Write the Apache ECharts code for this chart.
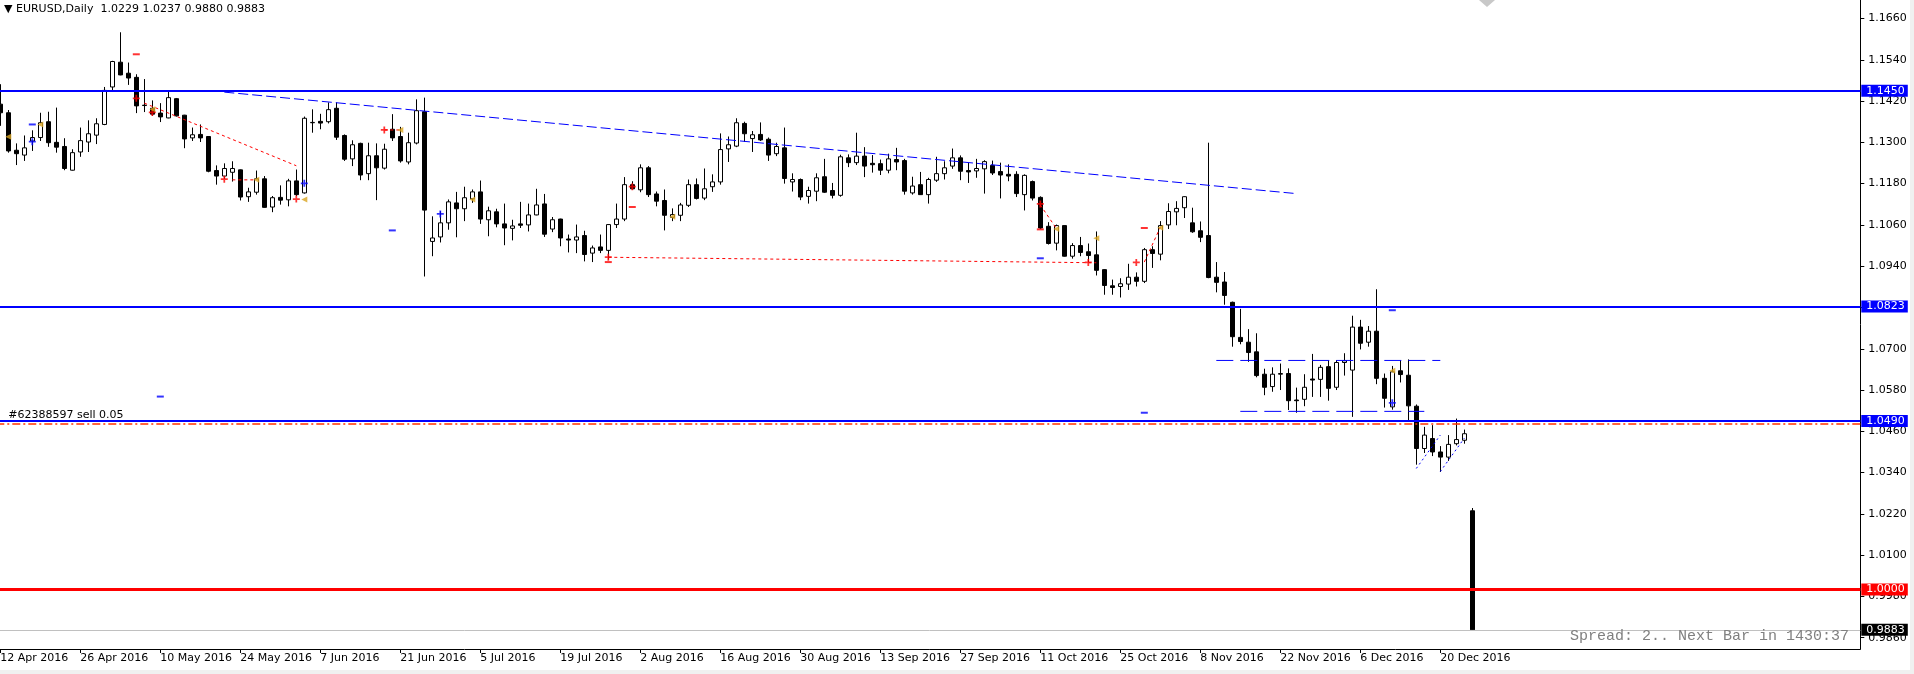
<!DOCTYPE html>
<html>
<head>
<meta charset="utf-8">
<script src="https://cdn.jsdelivr.net/npm/echarts@6/dist/echarts.min.js"></script>
<style>
  html, body { margin: 0; padding: 0; background: #f0f0f0; }
  #chart { position: absolute; left: 0; top: 0; width: 1910px; height: 670px; background: #fff; }
</style>
</head>
<body>
<div id="chart"></div>
<script>
// date labels, one every 10 daily bars
const dateLabels = ['12 Apr 2016', '26 Apr 2016', '10 May 2016', '24 May 2016', '7 Jun 2016', '21 Jun 2016',
  '5 Jul 2016', '19 Jul 2016', '2 Aug 2016', '16 Aug 2016', '30 Aug 2016', '13 Sep 2016', '27 Sep 2016',
  '11 Oct 2016', '25 Oct 2016', '8 Nov 2016', '22 Nov 2016', '6 Dec 2016', '20 Dec 2016'];

const opens = [1.1411, 1.1386, 1.1277, 1.1263, 1.1304, 1.1314, 1.1360, 1.1300, 1.1288, 1.1219,
  1.1272, 1.1301, 1.1321, 1.1352, 1.1461, 1.1533, 1.1501, 1.1489, 1.1408, 1.1399,
  1.1385, 1.1371, 1.1427, 1.1379, 1.1313, 1.1323, 1.1317, 1.1218, 1.1202, 1.1213,
  1.1220, 1.1142, 1.1155, 1.1194, 1.1112, 1.1140, 1.1133, 1.1188, 1.1153, 1.1357,
  1.1361, 1.1360, 1.1399, 1.1320, 1.1252, 1.1297, 1.1209, 1.1261, 1.1225, 1.1338,
  1.1317, 1.1243, 1.1298, 1.1389, 1.1012, 1.1025, 1.1066, 1.1124, 1.1107, 1.1136,
  1.1156, 1.1075, 1.1098, 1.1063, 1.1050, 1.1063, 1.1060, 1.1089, 1.1121, 1.1048,
  1.1077, 1.1019, 1.1016, 1.1029, 1.0978, 1.0996, 1.0986, 1.1061, 1.1077, 1.1177,
  1.1162, 1.1226, 1.1150, 1.1131, 1.1082, 1.1088, 1.1117, 1.1177, 1.1138, 1.1171,
  1.1185, 1.1281, 1.1289, 1.1355, 1.1311, 1.1323, 1.1309, 1.1267, 1.1284, 1.1185,
  1.1192, 1.1143, 1.1158, 1.1200, 1.1160, 1.1146, 1.1255, 1.1241, 1.1260, 1.1239,
  1.1238, 1.1219, 1.1250, 1.1247, 1.1153, 1.1177, 1.1148, 1.1190, 1.1209, 1.1231,
  1.1255, 1.1218, 1.1217, 1.1223, 1.1233, 1.1215, 1.1207, 1.1207, 1.1148, 1.1186,
  1.1140, 1.1056, 1.1007, 1.1058, 1.0969, 1.1000, 1.0982, 1.0973, 1.0930, 1.0883,
  1.0881, 1.0888, 1.0908, 1.0896, 1.0988, 1.0975, 1.1060, 1.1098, 1.1110, 1.1066,
  1.1043, 1.1029, 1.0908, 1.0894, 1.0835, 1.0733, 1.0719, 1.0691, 1.0626, 1.0590,
  1.0626, 1.0628, 1.0551, 1.0553, 1.0612, 1.0611, 1.0648, 1.0588, 1.0660, 1.0638,
  1.0763, 1.0719, 1.0751, 1.0614, 1.0531, 1.0636, 1.0623, 1.0533, 1.0410, 1.0439,
  1.0400, 1.0385, 1.0424, 1.0434, 1.0229];

const closes = [1.1386, 1.1275, 1.1267, 1.1284, 1.1314, 1.1357, 1.1299, 1.1286, 1.1224, 1.1270,
  1.1305, 1.1325, 1.1354, 1.1451, 1.1535, 1.1496, 1.1487, 1.1406, 1.1407, 1.1382,
  1.1374, 1.1430, 1.1377, 1.1310, 1.1322, 1.1313, 1.1216, 1.1202, 1.1224, 1.1224,
  1.1141, 1.1156, 1.1194, 1.1111, 1.1139, 1.1132, 1.1188, 1.1148, 1.1370, 1.1358,
  1.1356, 1.1395, 1.1315, 1.1251, 1.1293, 1.1205, 1.1261, 1.1226, 1.1280, 1.1313,
  1.1246, 1.1299, 1.1392, 1.1103, 1.1022, 1.1066, 1.1127, 1.1107, 1.1139, 1.1156,
  1.1077, 1.1101, 1.1063, 1.1051, 1.1057, 1.1059, 1.1089, 1.1118, 1.1033, 1.1075,
  1.1022, 1.1016, 1.1025, 1.0974, 1.0993, 1.0986, 1.1061, 1.1077, 1.1177, 1.1165,
  1.1226, 1.1148, 1.1129, 1.1088, 1.1090, 1.1118, 1.1177, 1.1137, 1.1165, 1.1185,
  1.1279, 1.1293, 1.1357, 1.1325, 1.1322, 1.1307, 1.1263, 1.1288, 1.1195, 1.1192,
  1.1141, 1.1160, 1.1197, 1.1155, 1.1146, 1.1258, 1.1241, 1.1260, 1.1231, 1.1235,
  1.1219, 1.1252, 1.1243, 1.1158, 1.1173, 1.1148, 1.1192, 1.1209, 1.1226, 1.1255,
  1.1216, 1.1214, 1.1224, 1.1244, 1.1211, 1.1205, 1.1202, 1.1151, 1.1204, 1.1138,
  1.1051, 1.1006, 1.1058, 1.0969, 1.1000, 1.0980, 1.0971, 1.0928, 1.0884, 1.0878,
  1.0889, 1.0908, 1.0896, 1.0988, 1.0977, 1.1058, 1.1099, 1.1108, 1.1142, 1.1040,
  1.1024, 1.0907, 1.0893, 1.0855, 1.0735, 1.0721, 1.0689, 1.0622, 1.0588, 1.0626,
  1.0628, 1.0549, 1.0549, 1.0588, 1.0609, 1.0646, 1.0585, 1.0660, 1.0665, 1.0763,
  1.0716, 1.0751, 1.0614, 1.0556, 1.0633, 1.0625, 1.0534, 1.0410, 1.0449, 1.0400,
  1.0385, 1.0422, 1.0436, 1.0453, 0.9883];

const highs = [1.1469, 1.1394, 1.1297, 1.1320, 1.1335, 1.1386, 1.1389, 1.1401, 1.1312, 1.1280,
  1.1343, 1.1364, 1.1370, 1.1461, 1.1537, 1.1620, 1.1532, 1.1498, 1.1484, 1.1422,
  1.1414, 1.1452, 1.1429, 1.1380, 1.1343, 1.1352, 1.1318, 1.1233, 1.1239, 1.1245,
  1.1221, 1.1168, 1.1218, 1.1202, 1.1144, 1.1175, 1.1194, 1.1221, 1.1375, 1.1396,
  1.1383, 1.1416, 1.1416, 1.1323, 1.1306, 1.1299, 1.1299, 1.1297, 1.1296, 1.1382,
  1.1345, 1.1328, 1.1425, 1.1430, 1.1085, 1.1100, 1.1134, 1.1156, 1.1171, 1.1163,
  1.1189, 1.1113, 1.1107, 1.1122, 1.1075, 1.1127, 1.1122, 1.1165, 1.1150, 1.1083,
  1.1078, 1.1032, 1.1061, 1.1043, 1.1000, 1.1032, 1.1062, 1.1122, 1.1199, 1.1187,
  1.1236, 1.1231, 1.1157, 1.1163, 1.1108, 1.1124, 1.1192, 1.1195, 1.1224, 1.1207,
  1.1326, 1.1317, 1.1370, 1.1360, 1.1333, 1.1358, 1.1314, 1.1299, 1.1343, 1.1210,
  1.1195, 1.1171, 1.1210, 1.1252, 1.1182, 1.1264, 1.1265, 1.1328, 1.1286, 1.1263,
  1.1250, 1.1267, 1.1284, 1.1252, 1.1200, 1.1214, 1.1197, 1.1258, 1.1245, 1.1282,
  1.1262, 1.1241, 1.1252, 1.1248, 1.1247, 1.1241, 1.1236, 1.1216, 1.1207, 1.1189,
  1.1143, 1.1068, 1.1061, 1.1058, 1.1007, 1.1025, 1.1006, 1.1041, 1.0931, 1.0901,
  1.0905, 1.0947, 1.0922, 1.0993, 1.0998, 1.1071, 1.1123, 1.1129, 1.1143, 1.1110,
  1.1070, 1.1299, 1.0952, 1.0923, 1.0837, 1.0816, 1.0757, 1.0745, 1.0642, 1.0646,
  1.0657, 1.0643, 1.0587, 1.0626, 1.0685, 1.0653, 1.0667, 1.0667, 1.0687, 1.0796,
  1.0784, 1.0766, 1.0873, 1.0628, 1.0650, 1.0667, 1.0669, 1.0538, 1.0473, 1.0478,
  1.0417, 1.0449, 1.0497, 1.0465, 1.0237];

const lows = [1.1348, 1.1270, 1.1234, 1.1246, 1.1275, 1.1304, 1.1287, 1.1270, 1.1219, 1.1218,
  1.1258, 1.1272, 1.1295, 1.1350, 1.1450, 1.1495, 1.1467, 1.1385, 1.1388, 1.1377,
  1.1359, 1.1370, 1.1375, 1.1283, 1.1304, 1.1301, 1.1213, 1.1177, 1.1194, 1.1186,
  1.1131, 1.1127, 1.1148, 1.1110, 1.1097, 1.1119, 1.1114, 1.1144, 1.1151, 1.1328,
  1.1338, 1.1355, 1.1307, 1.1246, 1.1231, 1.1190, 1.1190, 1.1132, 1.1221, 1.1304,
  1.1241, 1.1236, 1.1294, 1.0910, 1.0969, 1.1009, 1.1046, 1.1024, 1.1071, 1.1124,
  1.1063, 1.1027, 1.1053, 1.1001, 1.1015, 1.1051, 1.1041, 1.1088, 1.1025, 1.1039,
  1.0998, 1.0980, 1.0978, 1.0954, 1.0952, 1.0978, 1.0959, 1.1051, 1.1071, 1.1163,
  1.1155, 1.1141, 1.1114, 1.1044, 1.1071, 1.1071, 1.1112, 1.1134, 1.1132, 1.1156,
  1.1177, 1.1243, 1.1286, 1.1301, 1.1272, 1.1304, 1.1246, 1.1260, 1.1180, 1.1157,
  1.1132, 1.1122, 1.1129, 1.1153, 1.1137, 1.1142, 1.1228, 1.1234, 1.1199, 1.1212,
  1.1205, 1.1210, 1.1219, 1.1148, 1.1148, 1.1147, 1.1122, 1.1185, 1.1192, 1.1223,
  1.1190, 1.1182, 1.1197, 1.1151, 1.1205, 1.1137, 1.1187, 1.1141, 1.1102, 1.1131,
  1.1048, 1.1003, 1.0986, 1.0968, 1.0962, 1.0969, 1.0952, 1.0913, 1.0857, 1.0857,
  1.0849, 1.0871, 1.0881, 1.0891, 1.0935, 1.0957, 1.1048, 1.1059, 1.1080, 1.1037,
  1.1010, 1.0905, 1.0864, 1.0828, 1.0706, 1.0713, 1.0662, 1.0617, 1.0565, 1.0575,
  1.0580, 1.0522, 1.0514, 1.0533, 1.0560, 1.0560, 1.0549, 1.0580, 1.0622, 1.0502,
  1.0698, 1.0706, 1.0597, 1.0529, 1.0523, 1.0602, 1.0490, 1.0363, 1.0397, 1.0388,
  1.0342, 1.0374, 1.0419, 1.0424, 0.9880];

const priceTicks = [0.9860, 0.9980, 1.0100, 1.0220, 1.0340, 1.0460, 1.0580, 1.0700, 1.0820,
  1.0940, 1.1060, 1.1180, 1.1300, 1.1420, 1.1540, 1.1660];

const blueLevels = [1.1450, 1.0823, 1.0490];
const parityLevel = 1.0000;
const bidPrice = 0.9883;
const orderPrice = 1.0483;

const trendLine = [[28, 1.1446], [162, 1.1151]];
const rangeLines = [[[152, 1.0666], [180, 1.0666]], [[155, 1.0518], [178, 1.0518]]];
const channelLines = [[[177, 1.0352], [180, 1.0449]], [[180, 1.0343], [183, 1.0440]]];
const tradeLines = [[[18, 1.1414], [37, 1.1232]], [[29, 1.1191], [32, 1.1191]], [[48, 1.1336], [50, 1.1336]],
  [[76, 1.0966], [137, 1.0950]], [[130, 1.1118], [132, 1.1050]], [[143, 1.0952], [145, 1.1053]]];

const sellArrows = [[17, 1.1428], [19, 1.1387], [28, 1.1193], [37, 1.1135], [48, 1.1336], [76, 1.0966],
  [79, 1.1171], [130, 1.1121], [136, 1.0951], [142, 1.0951]];
const buyArrows = [[4, 1.1302], [38, 1.1181], [55, 1.1092], [174, 1.0543]];
const closeMarks = [[1, 1.1316], [5, 1.1352], [19, 1.1396], [32, 1.1191], [38, 1.1134], [50, 1.1336],
  [59, 1.1134], [84, 1.1084], [132, 1.1048], [137, 1.1021], [145, 1.1052], [174, 1.0636]];
const redStops = [[17, 1.1556], [79, 1.1112], [143, 1.1051], [76, 1.0952], [130, 1.1047]];
const blueStops = [[4, 1.1352], [49, 1.1044], [20, 1.0561], [130, 1.0963], [143, 1.0514], [174, 1.0812]];

const slotCount = 233;
const slots = Array.from({ length: slotCount }, (_, i) => String(i));
const candles = opens.map((o, i) => [o, closes[i], lows[i], highs[i]]);

const font = 'DejaVu Sans';
const isDateSlot = i => i % 10 === 0 && i / 10 < dateLabels.length;

const boxLabel = (text, bg) => ({
  show: true, position: 'end', distance: 1, formatter: text,
  backgroundColor: bg, color: '#fff', padding: [1, 3, 0, 5],
  fontSize: 11, fontFamily: font
});

const chart = echarts.init(document.getElementById('chart'));
const option = {
  animation: false,
  backgroundColor: '#fff',
  title: [{
    text: '\u25BC EURUSD,Daily  1.0229 1.0237 0.9880 0.9883',
    left: 4, top: 4, padding: 0,
    textStyle: { fontSize: 11, fontWeight: 'normal', color: '#000', fontFamily: font }
  }, {
    text: 'Spread: 2.. Next Bar in 1430:37',
    right: 61, top: 629, padding: 0,
    textStyle: { fontSize: 15, fontWeight: 'normal', color: '#808080', fontFamily: 'Liberation Mono' }
  }],
  grid: { left: -3.7, right: 49.7, top: 0, bottom: 21, outerBoundsMode: 'none' },
  xAxis: {
    type: 'category', data: slots, boundaryGap: true,
    axisLine: { show: true, lineStyle: { color: '#000', width: 1 } },
    axisTick: { show: true, alignWithLabel: true, length: 4, interval: isDateSlot, lineStyle: { color: '#000' } },
    axisLabel: {
      interval: isDateSlot, formatter: (v, i) => dateLabels[i / 10] || '',
      align: 'left', margin: 4, color: '#000', fontSize: 11, fontFamily: font
    },
    splitLine: { show: false }
  },
  yAxis: {
    type: 'value', position: 'right', min: 0.98272, max: 1.17138, scale: true,
    axisLine: { show: true, lineStyle: { color: '#000', width: 1 } },
    axisTick: { show: true, length: 4, customValues: priceTicks, lineStyle: { color: '#000' } },
    axisLabel: {
      customValues: priceTicks, formatter: v => v.toFixed(4), margin: 8,
      color: '#000', fontSize: 11, fontFamily: font
    },
    splitLine: { show: false }
  },
  series: [
    {
      name: 'EURUSD', type: 'candlestick', data: candles, barWidth: 4, silent: true,
      itemStyle: { color: '#fff', color0: '#000', borderColor: '#000', borderColor0: '#000', borderColorDoji: '#000', borderWidth: 1 },
      markLine: {
        silent: true, symbol: ['none', 'none'], animation: false, precision: 4, z: 5,
        data: [
          {
            yAxis: orderPrice,
            lineStyle: { color: '#ff3300', width: 1.5, type: [8, 3, 2, 3] },
            label: { show: true, position: 'insideStartTop', distance: 3, formatter: '#62388597 sell 0.05', color: '#000', fontSize: 11, fontFamily: font, padding: [0, 0, 0, 9] }
          },
          ...blueLevels.map(v => ({ yAxis: v, lineStyle: { color: '#0000ff', width: 2, type: 'solid' }, label: boxLabel(v.toFixed(4), '#0000ff') })),
          { yAxis: parityLevel, lineStyle: { color: '#ff0000', width: 3, type: 'solid' }, label: boxLabel(parityLevel.toFixed(4), '#ff0000') },
          { yAxis: bidPrice, lineStyle: { color: '#c0c0c0', width: 1, type: 'solid' }, label: boxLabel(bidPrice.toFixed(4), '#000') }
        ]
      }
    },
    {
      type: 'line', data: trendLine, symbol: 'none', silent: true, z: 4,
      lineStyle: { color: '#0000ff', width: 1, type: [10, 4] }
    },
    ...rangeLines.map(d => ({
      type: 'line', data: d, symbol: 'none', silent: true, z: 4,
      lineStyle: { color: '#0000ff', width: 1, type: [17, 7] }
    })),
    ...channelLines.map(d => ({
      type: 'line', data: d, symbol: 'none', silent: true, z: 4,
      lineStyle: { color: '#0000ff', width: 1, type: [2, 3] }
    })),
    ...tradeLines.map(d => ({
      type: 'line', data: d, symbol: 'none', silent: true, z: 4,
      lineStyle: { color: '#ff0000', width: 1, type: [3, 3] }
    })),
    {
      type: 'scatter', data: sellArrows, silent: true, z: 6, symbolSize: 7,
      symbol: 'path://M3,0h2v3h3v2h-3v3h-2v-3h-3v-2h3z', itemStyle: { color: '#ff0000' }
    },
    {
      type: 'scatter', data: buyArrows, silent: true, z: 6, symbolSize: 7,
      symbol: 'path://M3,0h2v3h3v2h-3v3h-2v-3h-3v-2h3z', itemStyle: { color: '#0000ff' }
    },
    {
      type: 'scatter', data: closeMarks, silent: true, z: 6, symbolSize: 6,
      symbol: 'triangle', symbolRotate: 90, itemStyle: { color: '#daa520' }
    },
    {
      type: 'scatter', data: redStops, silent: true, z: 6, symbolSize: [7, 2],
      symbol: 'rect', itemStyle: { color: '#ff0000' }
    },
    {
      type: 'scatter', data: blueStops, silent: true, z: 6, symbolSize: [7, 2],
      symbol: 'rect', itemStyle: { color: '#0000ff' }
    }
  ],
  graphic: [{
    type: 'polygon', silent: true,
    shape: { points: [[1479, 0], [1495, 0], [1487, 7]] },
    style: { fill: '#c8c8c8' }
  }]
};
chart.setOption(option);
</script>
</body>
</html>
